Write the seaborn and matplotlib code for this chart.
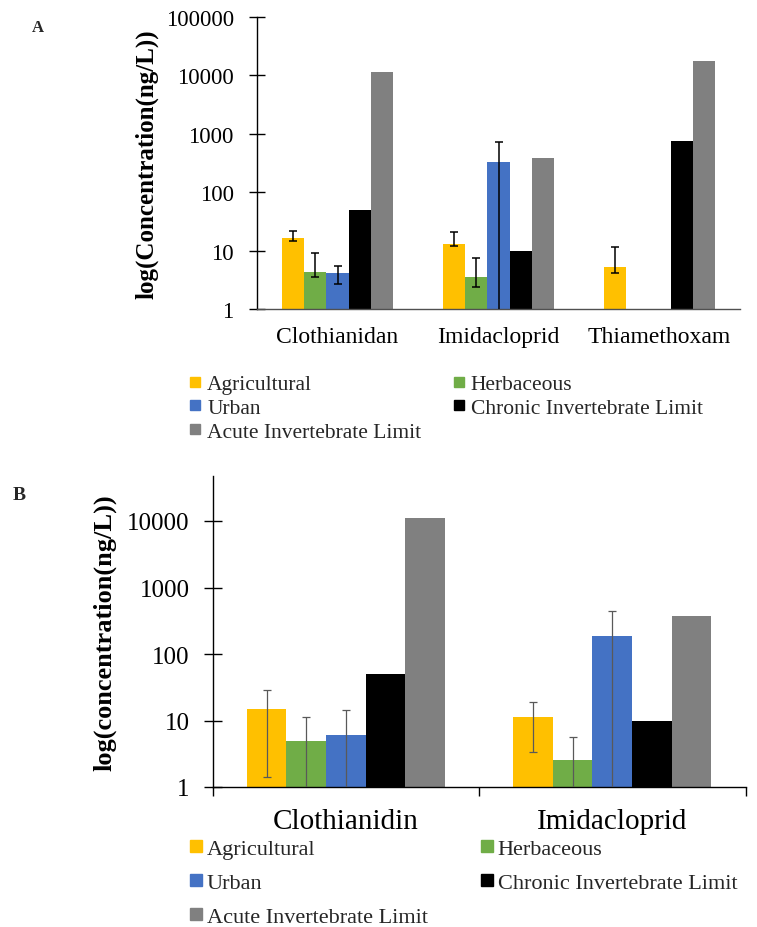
import numpy as np
import pandas as pd
import matplotlib
matplotlib.use("Agg")
import matplotlib.pyplot as plt
import seaborn as sns
from matplotlib.lines import Line2D

sns.set_theme(style="white")
plt.rcParams["font.family"] = ["Liberation Serif", "DejaVu Serif"]

# ---------------- data ----------------
series = ["Agricultural", "Herbaceous", "Urban",
          "Chronic Invertebrate Limit", "Acute Invertebrate Limit"]
colors = ["#FFC000", "#70AD47", "#4472C4", "#000000", "#808080"]

# Panel A
a_categories = ["Clothianidan", "Imidacloprid", "Thiamethoxam"]
a_agricultural = [16.4, 13.0, 5.2]
a_herbaceous = [4.3, 3.5, np.nan]
a_urban = [4.1, 333.0, np.nan]
a_chronic = [50.0, 10.0, 745.0]
a_acute = [11500.0, 385.0, 17400.0]
# error bar ends (low, high) for the measured series
a_agri_low = [14.6, 12.1, 4.1]
a_agri_high = [21.7, 20.5, 11.7]
a_herb_low = [3.5, 2.4, np.nan]
a_herb_high = [9.1, 7.4, np.nan]
a_urban_low = [2.7, 0.5, np.nan]
a_urban_high = [5.4, 733.0, np.nan]

# Panel B
b_categories = ["Clothianidin", "Imidacloprid"]
b_agricultural = [15.0, 11.2]
b_herbaceous = [5.0, 2.55]
b_urban = [6.1, 186.0]
b_chronic = [50.0, 10.0]
b_acute = [11000.0, 377.0]
b_agri_low = [1.43, 3.35]
b_agri_high = [29.0, 19.3]
b_herb_low = [0.5, 0.5]
b_herb_high = [11.2, 5.7]
b_urban_low = [0.5, 0.5]
b_urban_high = [14.5, 448.0]

a_yticks = [1, 10, 100, 1000, 10000, 100000]
a_yticklabels = ["1", "10", "100", "1000", "10000", "100000"]
b_yticks = [1, 10, 100, 1000, 10000]
b_yticklabels = ["1", "10", "100", "1000", "10000"]


def long_frame(cats, cols):
    rows = []
    for s, vals in zip(series, cols):
        for c, v in zip(cats, vals):
            rows.append({"category": c, "series": s, "value": v})
    return pd.DataFrame(rows)


def add_errors(ax, values, lows, highs, color, lw, capsize):
    for s, cont in zip(series, ax.containers):
        if s not in lows:
            continue
        for patch in cont.patches:
            h = patch.get_height()
            if not np.isfinite(h) or h <= 0:
                continue
            xc = patch.get_x() + patch.get_width() / 2
            ci = int(round(xc))
            lo, hi = lows[s][ci], highs[s][ci]
            if not np.isfinite(lo):
                continue
            v = values[s][ci]
            ax.errorbar([xc], [v], yerr=[[v - lo], [hi - v]], fmt="none",
                        ecolor=color, elinewidth=lw, capsize=capsize,
                        capthick=lw, zorder=5)


W, H = 757, 928
fig = plt.figure(figsize=(W / 100, H / 100), dpi=100)

# ---------------- Panel A ----------------
axA = fig.add_axes([257 / W, 1 - 310 / H, (740 - 257) / W, (310 - 18) / H])
dfA = long_frame(a_categories, [a_agricultural, a_herbaceous, a_urban, a_chronic, a_acute])
sns.barplot(data=dfA, x="category", y="value", hue="series", hue_order=series,
            order=a_categories, palette=colors, saturation=1, width=0.69,
            errorbar=None, legend=False, linewidth=0, edgecolor="none", ax=axA)
axA.set_yscale("log")
axA.set_ylim(1, 100000)
axA.set_xlim(-0.5, 2.5)
add_errors(axA,
           {"Agricultural": a_agricultural, "Herbaceous": a_herbaceous, "Urban": a_urban},
           {"Agricultural": a_agri_low, "Herbaceous": a_herb_low, "Urban": a_urban_low},
           {"Agricultural": a_agri_high, "Herbaceous": a_herb_high, "Urban": a_urban_high},
           "black", 1.1, 2.9)
axA.set_yticks(a_yticks)
axA.set_yticklabels(a_yticklabels)
axA.yaxis.set_minor_locator(matplotlib.ticker.NullLocator())
axA.tick_params(axis="y", direction="inout", length=11.5, width=1.0, pad=11,
                labelsize=16.5, colors="black", left=True)
axA.tick_params(axis="x", length=0, pad=12, labelsize=17, labelcolor="black")
for sp in ["top", "right"]:
    axA.spines[sp].set_visible(False)
axA.spines["left"].set_color("black")
axA.spines["left"].set_linewidth(1.0)
axA.spines["bottom"].set_color("#505050")
axA.spines["bottom"].set_linewidth(1.0)
axA.set_xlabel("")
axA.set_ylabel("log(Concentration(ng/L))", fontsize=18, fontweight="bold",
               va="center", color="black")
axA.yaxis.set_label_coords((147 - 257) / (740 - 257), 0.5)

# ---------------- Panel B ----------------
b_top = 10 ** ((788 - 476.7) / 66.5)
axB = fig.add_axes([212.5 / W, 1 - 788 / H, (745.5 - 212.5) / W, (788 - 476.7) / H])
dfB = long_frame(b_categories, [b_agricultural, b_herbaceous, b_urban, b_chronic, b_acute])
sns.barplot(data=dfB, x="category", y="value", hue="series", hue_order=series,
            order=b_categories, palette=colors, saturation=1, width=0.743,
            errorbar=None, legend=False, linewidth=0, edgecolor="none", ax=axB)
axB.set_yscale("log")
axB.set_ylim(1, b_top)
axB.set_xlim(-0.5, 1.5)
add_errors(axB,
           {"Agricultural": b_agricultural, "Herbaceous": b_herbaceous, "Urban": b_urban},
           {"Agricultural": b_agri_low, "Herbaceous": b_herb_low, "Urban": b_urban_low},
           {"Agricultural": b_agri_high, "Herbaceous": b_herb_high, "Urban": b_urban_high},
           "#595959", 0.9, 2.9)
axB.set_yticks(b_yticks)
axB.set_yticklabels(b_yticklabels)
axB.yaxis.set_minor_locator(matplotlib.ticker.NullLocator())
axB.tick_params(axis="y", direction="inout", length=13, width=1.0, pad=10,
                labelsize=18, colors="black", left=True)
axB.set_xticks([-0.5, 0.5, 1.5], minor=True)
axB.tick_params(axis="x", which="major", length=0, pad=15, labelsize=21, labelcolor="black")
axB.tick_params(axis="x", which="minor", direction="out", length=6.5, width=1.0,
                color="black", bottom=True)
for sp in ["top", "right"]:
    axB.spines[sp].set_visible(False)
axB.spines["left"].set_color("black")
axB.spines["bottom"].set_color("black")
axB.spines["left"].set_linewidth(1.0)
axB.spines["bottom"].set_linewidth(1.0)
axB.set_xlabel("")
axB.set_ylabel("log(concentration(ng/L))", fontsize=19, fontweight="bold",
               va="center", color="black")
axB.yaxis.set_label_coords((105 - 212.5) / (745.5 - 212.5), 0.5)

# ---------------- legends ----------------
order_idx = [0, 2, 4, 1, 3]


def handles_for(ms):
    return [Line2D([], [], marker="s", linestyle="", markersize=ms,
                   markerfacecolor=colors[i], markeredgecolor=colors[i]) for i in order_idx]


labels_ordered = [series[i] for i in order_idx]

legA = fig.legend(handles_for(6.5), labels_ordered, ncol=2, loc="upper left",
                  bbox_to_anchor=(190 / W, 1 - 375 / H), frameon=False,
                  fontsize=15.5, handlelength=0.5, handletextpad=0.3,
                  labelspacing=0.17, columnspacing=1.5, borderpad=0, borderaxespad=0)
legB = fig.legend(handles_for(8), labels_ordered, ncol=2, loc="upper left",
                  bbox_to_anchor=(190 / W, 1 - 839 / H), frameon=False,
                  fontsize=16, handlelength=0.5, handletextpad=0.25,
                  labelspacing=0.61, columnspacing=2.4, borderpad=0, borderaxespad=0)

# panel letters
fig.text(32 / W, 1 - 28 / H, "A", fontsize=12, fontweight="bold", va="center", ha="left")
fig.text(13 / W, 1 - 495 / H, "B", fontsize=14, fontweight="bold", va="center", ha="left")

fig.savefig("out.png", dpi=100)
